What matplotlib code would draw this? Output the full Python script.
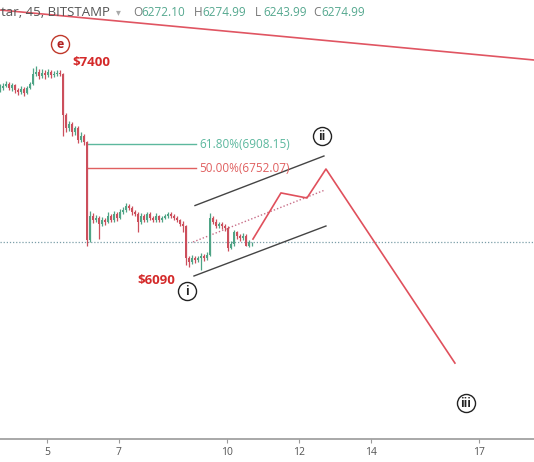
import numpy as np
import matplotlib.pyplot as plt

plt.rcParams["font.family"] = ["Open Sans", "DejaVu Sans"]

# 2-hour candles, starting on day 3.70
t0 = 3.70
step = 1 / 12
first_open = 7265
closes = [7274, 7287, 7300, 7274, 7293, 7261, 7248, 7268, 7242, 7274,
          7300, 7365, 7378, 7352, 7371, 7358, 7378, 7358, 7365, 7371,
          7365, 7098, 7014, 7040, 6988, 7014, 6936, 6962, 6923, 6286,
          6442, 6416, 6429, 6390, 6416, 6403, 6442, 6416, 6455, 6429,
          6468, 6481, 6507, 6494, 6468, 6455, 6403, 6442, 6416, 6455,
          6429, 6416, 6442, 6416, 6429, 6442, 6455, 6442, 6429, 6416,
          6390, 6377, 6169, 6143, 6169, 6156, 6169, 6182, 6169, 6188,
          6429, 6403, 6377, 6390, 6377, 6364, 6234, 6260, 6338, 6312,
          6299, 6312, 6250, 6272.10, 6274.99]
highs = [7300, 7305, 7320, 7310, 7305, 7300, 7275, 7285, 7280, 7290,
         7315, 7405, 7414, 7395, 7395, 7390, 7395, 7392, 7385, 7390,
         7388, 7372, 7110, 7060, 7050, 7030, 7025, 6985, 6975, 6930,
         6475, 6460, 6450, 6440, 6435, 6430, 6465, 6455, 6475, 6470,
         6485, 6500, 6525, 6520, 6505, 6480, 6465, 6460, 6455, 6470,
         6465, 6445, 6460, 6450, 6445, 6458, 6470, 6465, 6455, 6440,
         6425, 6410, 6385, 6185, 6190, 6180, 6185, 6200, 6195, 6205,
         6460, 6445, 6420, 6405, 6400, 6390, 6375, 6280, 6350, 6345,
         6325, 6330, 6325, 6285, 6274.99]
lows = [7250, 7262, 7280, 7262, 7255, 7240, 7230, 7235, 7225, 7238,
        7265, 7295, 7350, 7335, 7340, 7335, 7345, 7340, 7345, 7350,
        7350, 6960, 6990, 6995, 6965, 6970, 6915, 6925, 6905, 6250,
        6270, 6395, 6400, 6295, 6375, 6385, 6395, 6400, 6405, 6410,
        6420, 6455, 6470, 6480, 6450, 6440, 6340, 6390, 6400, 6405,
        6415, 6400, 6405, 6400, 6405, 6420, 6430, 6430, 6415, 6400,
        6375, 6340, 6125, 6110, 6130, 6135, 6140, 6090, 6150, 6155,
        6180, 6390, 6365, 6365, 6360, 6345, 6215, 6225, 6250, 6295,
        6280, 6285, 6245, 6240, 6243.99]

last_price = 6274.99

# annotation lines (day, price)
trend_x, trend_y = [3.694, 18.53], [7781, 7456]
upper_x, upper_y = [9.111, 12.694], [6510, 6832]
lower_x, lower_y = [9.083, 12.75], [6052, 6377]
mid_x, mid_y = [9.056, 12.722], [6273, 6611]
proj_x = [10.722, 11.5, 12.222, 12.75, 16.333]
proj_y = [6292, 6592, 6559, 6747.5, 5486]
fib_x = [6.111, 9.139]
fib_levels = [6908.15, 6752.07]
fib_labels = ["61.80%(6908.15)", "50.00%(6752.07)"]
fib_colors = ["#5cb89e", "#e06060"]

waves = ["ii", "i", "iii"]
wave_x = [12.639, 8.889, 16.639]
wave_y = [6962, 5954, 5226]

xticks = [5, 7, 10, 12, 14, 17]

fig = plt.figure(figsize=(5.34, 4.62), dpi=100)
ax = fig.add_axes([0, 23 / 462, 1, 439 / 462])
ax.set_xlim(3.694, 18.53)
ax.set_ylim(4992.5, 7846)

# candles
opens = [first_open] + closes[:-1]
tx = t0 + step * np.arange(len(closes))
up = np.array(closes) >= np.array(opens)
cols = np.where(up, "#4fa486", "#cc4f5c")
ax.vlines(tx, lows, highs, colors=cols, lw=0.9, zorder=3)
bottoms = np.minimum(opens, closes)
heights = np.maximum(np.abs(np.array(closes) - np.array(opens)), 3)
ax.bar(tx, heights, bottom=bottoms, width=step * 0.6, color=cols, lw=0, zorder=3)

ax.axhline(last_price, color="#7b9ea8", lw=0.9, ls=(0, (1, 1.5)), zorder=2)

ax.plot(trend_x, trend_y, color="#e05562", lw=1.2, zorder=4)
ax.plot(upper_x, upper_y, color="#444444", lw=1.0)
ax.plot(lower_x, lower_y, color="#444444", lw=1.0)
ax.plot(mid_x, mid_y, color="#c86e88", lw=1.0, ls=(0, (1, 1.5)))
ax.plot(proj_x, proj_y, color="#e0505c", lw=1.2, zorder=4)

for lvl, lab, c in zip(fib_levels, fib_labels, fib_colors):
    ax.plot(fib_x, [lvl, lvl], color=c, lw=1.0)
    ax.text(9.222, lvl, lab, color=c, fontsize=8.5, va="center", ha="left")

ax.text(6.222, 7443, "$7400", color="#d42a2a", fontsize=9.5,
        fontweight="bold", ha="center", va="center")
ax.text(8.028, 6026, "$6090", color="#d42a2a", fontsize=9.5,
        fontweight="bold", ha="center", va="center")

ax.plot(5.361, 7560, "o", ms=13, mfc="white", mec="#c0392b", mew=1.0, zorder=5)
ax.text(5.361, 7560, "e", color="#b02020", fontsize=9, fontweight="bold",
        ha="center", va="center", zorder=6)
for lab, wx, wy in zip(waves, wave_x, wave_y):
    ax.plot(wx, wy, "o", ms=13, mfc="white", mec="#222222", mew=1.0, zorder=5)
    ax.text(wx, wy, lab, color="#222222", fontsize=8.5, fontweight="bold",
            ha="center", va="center", zorder=6)

for s in ["top", "left", "right"]:
    ax.spines[s].set_visible(False)
ax.spines["bottom"].set_color("#9a9a9a")
ax.spines["bottom"].set_linewidth(1.2)
ax.set_yticks([])
ax.set_xticks(xticks)
ax.set_xticklabels([str(v) for v in xticks])
ax.tick_params(axis="x", length=3, width=0.8, color="#9a9a9a",
               labelcolor="#555555", labelsize=7.5, pad=3)

# header
hy = 1 - 12 / 462
fig.text(1 / 534, hy, "tar, 45, BITSTAMP", color="#555555", fontsize=9.5,
         ha="left", va="center")
fig.text(118 / 534, hy, "\u25be", color="#aaaaaa", fontsize=7, ha="center",
         va="center", family="DejaVu Sans")
header = [("O", "6272.10", 133), ("H", "6274.99", 194), ("L", "6243.99", 255),
          ("C", "6274.99", 313)]
for letter, val, px in header:
    fig.text(px / 534, hy, letter, color="#777777", fontsize=8.5, va="center")
    fig.text((px + 8) / 534, hy, val, color="#55a88f", fontsize=8.5, va="center")

fig.savefig("out.png", dpi=100)
